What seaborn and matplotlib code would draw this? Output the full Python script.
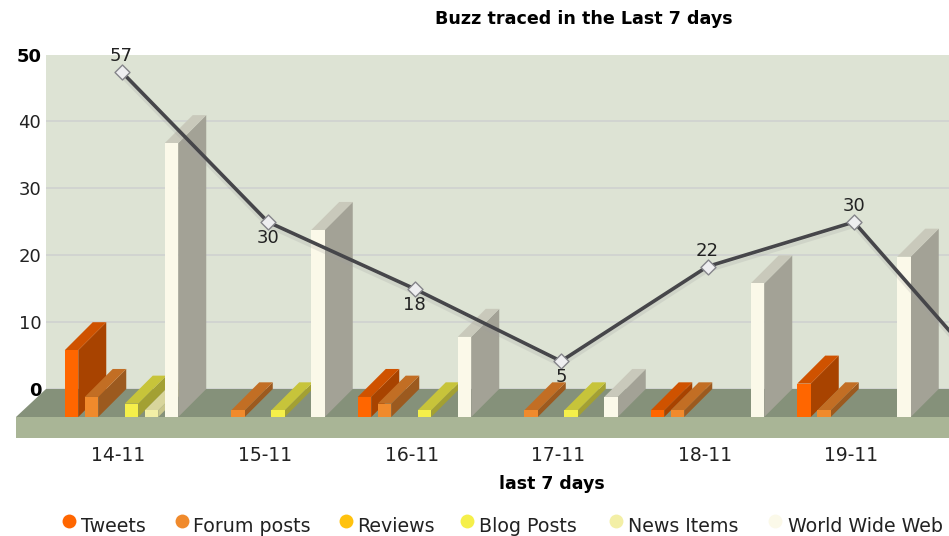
import numpy as np
import pandas as pd
import matplotlib
matplotlib.use("Agg")
import matplotlib.pyplot as plt
import matplotlib.patheffects as pe
from matplotlib.lines import Line2D
from matplotlib.patches import Polygon, Rectangle
from matplotlib.transforms import Affine2D
import seaborn as sns

days = ["14-11", "15-11", "16-11", "17-11", "18-11", "19-11", "20-11"]
series = ["Tweets", "Forum posts", "Reviews", "Blog Posts", "News Items", "World Wide Web"]
tweets = [10, 0, 3, 0, 1, 5, 0]
forum_posts = [3, 1, 2, 1, 1, 1, 0]
reviews = [0, 0, 0, 0, 0, 0, 0]
blog_posts = [2, 1, 1, 1, 0, 0, 0]
news_items = [1, 0, 0, 0, 0, 0, 0]
world_wide_web = [41, 28, 12, 3, 20, 24, 0]
total_buzz = [57, 30, 18, 5, 22, 30, 0]
label_above = [True, False, False, False, True, True, False]
y_ticks = [0, 10, 20, 30, 40, 50]
visible_days = 6

front_colors = ["#ff6600", "#f08a2c", "#ffc20e", "#f5ef4a", "#f3efa6", "#fbf9e9"]
side_colors = ["#a84300", "#9c5a1f", "#a68a10", "#a3a033", "#c9c68c", "#a3a296"]
top_colors = ["#cf5200", "#c26e24", "#d0a010", "#c7c43a", "#d8d59c", "#c9c9bb"]

W, H = 949, 536
sns.set_style("white")
plt.rcParams["font.family"] = ["DejaVu Sans"]
fig = plt.figure(figsize=(W / 100, H / 100), dpi=100, facecolor="white")


def rect(x0, ytop, x1, ybot):
    return [x0 / W, (H - ybot) / H, (x1 - x0) / W, (ybot - ytop) / H]


px = Affine2D().scale(1, -1).translate(0, H)  # screen pixels, y down

# back wall
ax_back = fig.add_axes(rect(46, 54.5, 949, 389), zorder=0)
ax_back.set_facecolor("#dde3d4")
ax_back.set_xlim(0, 1)
ax_back.set_ylim(0, 50)
ax_back.set_xticks([])
ax_back.set_yticks(y_ticks)
ax_back.set_yticklabels([str(t) for t in y_ticks], fontsize=13, color="#222222")
for lab, t in zip(ax_back.get_yticklabels(), y_ticks):
    if t in (0, 50):
        lab.set_fontweight("bold")
        lab.set_color("black")
ax_back.tick_params(axis="y", length=0, pad=3.5)
ax_back.grid(axis="y", color="#cfd1d0", lw=1.2)
for gl, t in zip(ax_back.get_ygridlines(), y_ticks):
    if t == max(y_ticks):
        gl.set_visible(False)
sns.despine(ax=ax_back, left=True, bottom=True, right=True, top=True)

# floor and front lip
ax_back.add_patch(Polygon([(16, 417), (46, 389), (949, 389), (949, 417)], closed=True,
                          transform=px, facecolor="#85917a", edgecolor="none",
                          clip_on=False, zorder=5))
ax_back.add_patch(Rectangle((16, 417), 933, 21, transform=px, facecolor="#a9b596",
                            edgecolor="none", clip_on=False, zorder=5))

# bars in the front plane
ax_front = fig.add_axes(rect(16, 55, 949, 417), zorder=1)
ax_front.patch.set_alpha(0)
values = [tweets, forum_posts, reviews, blog_posts, news_items, world_wide_web]
df = pd.DataFrame({
    "day": np.tile(days, len(series)),
    "series": np.repeat(series, len(days)),
    "value": np.concatenate(values),
})
sns.barplot(data=df, x="day", y="value", hue="series", order=days, hue_order=series,
            palette=front_colors, saturation=1, width=0.819, gap=0.325, legend=False,
            linewidth=0, ax=ax_front)
step = 146.5
y_unit = 6.68
dx, dy = 28 / step, 28 / y_unit
for s_idx, cont in enumerate(ax_front.containers):
    for bar in cont.patches:
        h = bar.get_height()
        if h <= 0:
            continue
        l, r = bar.get_x(), bar.get_x() + bar.get_width()
        z = 2 + s_idx
        bar.set_zorder(z + 0.5)
        ax_front.add_patch(Polygon([(r, 0), (r + dx, dy), (r + dx, h + dy), (r, h)], closed=True,
                                   facecolor=side_colors[s_idx], edgecolor="none", zorder=z))
        ax_front.add_patch(Polygon([(l, h), (l + dx, h + dy), (r + dx, h + dy), (r, h)], closed=True,
                                   facecolor=top_colors[s_idx], edgecolor="none", zorder=z + 0.1))
ax_front.set_ylabel("")
ax_front.set_xlabel("last 7 days", fontsize=12.5, fontweight="bold", color="black", va="center")
ax_front.xaxis.set_label_coords((551.5 - 16) / 933, -(484 - 417) / 362)
sns.despine(ax=ax_front, left=True, bottom=True, right=True, top=True)

# total line on its own scale
ax_line = ax_front.twinx()
ax_line.set_zorder(2)
ax_line.patch.set_alpha(0)
xs = np.arange(len(days))
sns.lineplot(x=xs, y=total_buzz, ax=ax_line, color="#46464a", lw=2.6, legend=False,
             path_effects=[pe.SimpleLineShadow(offset=(0, -3), shadow_color="#a0a0a0", alpha=0.22),
                           pe.Normal()], errorbar=None)
sns.scatterplot(x=xs, y=total_buzz, ax=ax_line, marker="D", s=58, color="#eeeef0",
                edgecolor="#85858a", linewidth=1, legend=False, zorder=5)
ax_line.set_ylim(-28 / (334 / 60), 60)
ax_line.set_yticks([])
ax_line.set_ylabel("")
sns.despine(ax=ax_line, left=True, bottom=True, right=True, top=True)

# final view of the shared category axis: the seventh day runs off the right edge
ax_front.set_xlim((16 - 121.5) / step, (949 - 121.5) / step)
ax_front.set_ylim(0, 362 / y_unit)
ax_front.set_xticks(np.arange(visible_days) - 0.02)
ax_front.set_xticklabels(days[:visible_days], fontsize=13.5, color="#222222")
ax_front.tick_params(axis="x", length=0, pad=21)
ax_front.set_yticks([])
ax_line.tick_params(axis="x", length=0)

for x, v, above in zip(xs[:visible_days], total_buzz, label_above):
    ax_line.annotate(str(v), (x, v), xytext=(0, 11.5 if above else -11.5), textcoords="offset points",
                     ha="center", va="center", fontsize=13, color="#222222", zorder=6)

# title
fig.suptitle("Buzz traced in the Last 7 days", x=583.5 / W, y=1 - 19 / H, ha="center", va="center",
             fontsize=12.6, fontweight="bold", color="black")

# legend row
legend_marker_x = [69, 182, 346, 467, 616, 775]
legend_text_x = [81, 193, 357, 479, 628, 788]
for name, c, mx, tx in zip(series, front_colors, legend_marker_x, legend_text_x):
    fig.add_artist(Line2D([mx], [521], transform=px, marker="o", ms=10, color=c, mew=0, ls="none"))
    fig.text(tx / W, 1 - 526 / H, name, ha="left", va="center", fontsize=13.7, color="#222222")

fig.savefig("out.png", dpi=100, facecolor="white")
